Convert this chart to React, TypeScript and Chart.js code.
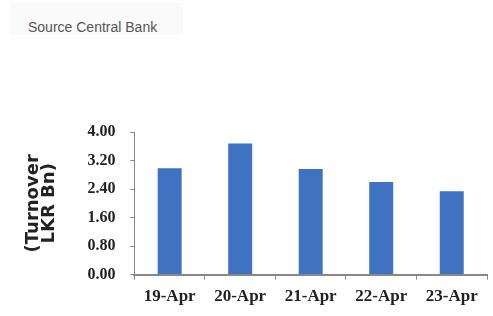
import React, { useEffect, useRef } from "react";
import { Chart, registerables } from "chart.js";

Chart.register(...registerables);

const categories = ["19-Apr", "20-Apr", "21-Apr", "22-Apr", "23-Apr"];
const turnover = [2.98, 3.68, 2.96, 2.6, 2.34];
const yMin = 0;
const yMax = 4;
const yStep = 0.8;
const yTitle = ["(Turnover", "LKR Bn)"];
const sourceText = "Source Central Bank";

export default function App() {
  const ref = useRef<HTMLCanvasElement | null>(null);

  useEffect(() => {
    document.body.style.margin = "0";
    const canvas = ref.current;
    if (!canvas) return;
    const chart = new Chart(canvas, {
      type: "bar",
      data: {
        labels: categories,
        datasets: [
          {
            data: turnover,
            backgroundColor: "#3F72C0",
            borderWidth: 0,
            categoryPercentage: 1,
            barPercentage: 0.34,
          },
        ],
      },
      options: {
        responsive: false,
        animation: false,
        devicePixelRatio: 1,
        layout: { padding: { left: 25, right: 6, top: 132, bottom: 2 } },
        plugins: {
          legend: { display: false },
          tooltip: { enabled: false },
          title: { display: false },
        },
        scales: {
          x: {
            grid: {
              display: true,
              drawOnChartArea: false,
              drawTicks: true,
              tickLength: 5,
              color: "#888",
              offset: true,
            },
            border: { display: true, color: "#888", width: 2 },
            ticks: {
              color: "#222",
              padding: 7,
              font: { family: "Liberation Serif", size: 17, weight: "bold" },
              maxRotation: 0,
            },
          },
          y: {
            min: yMin,
            max: yMax,
            grid: {
              display: true,
              drawOnChartArea: false,
              drawTicks: true,
              tickLength: 4,
              color: "#888",
            },
            border: { display: true, color: "#888", width: 1 },
            ticks: {
              stepSize: yStep,
              color: "#222",
              padding: 15,
              font: { family: "Liberation Serif", size: 16, weight: "bold" },
              callback: (v: any) => Number(v).toFixed(2),
            },
            title: {
              display: true,
              text: yTitle,
              color: "#222",
              padding: { top: 0, bottom: 15 },
              font: { family: "DejaVu Sans", size: 18, weight: "bold", lineHeight: 0.9 },
            },
          },
        },
      },
    });
    return () => chart.destroy();
  }, []);

  return (
    <div style={{ position: "relative", width: 493, height: 316, background: "#fff" }}>
      <div
        style={{
          position: "absolute",
          left: 10,
          top: 3,
          width: 173,
          height: 32,
          background: "#fafafa",
        }}
      />
      <div
        style={{
          position: "absolute",
          left: 28,
          top: 18,
          fontFamily: "Liberation Sans",
          fontSize: 14,
          color: "#555",
          lineHeight: "18px",
          whiteSpace: "nowrap",
        }}
      >
        {sourceText}
      </div>
      <canvas
        ref={ref}
        width={493}
        height={316}
        style={{ position: "absolute", left: 0, top: 0, width: 493, height: 316 }}
      />
    </div>
  );
}
